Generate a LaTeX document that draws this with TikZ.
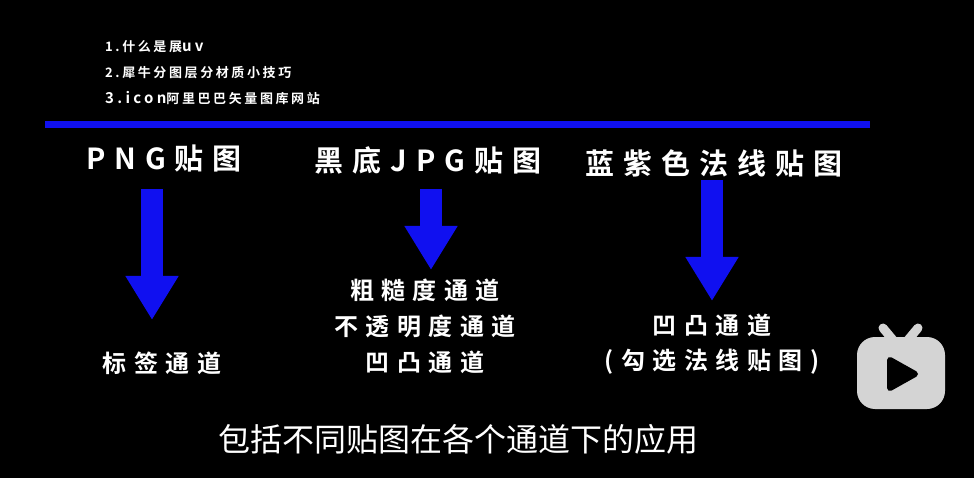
\documentclass[tikz,border=0pt]{standalone}
\usepackage{fontspec}
\usepackage[svgnames]{xcolor}
\setmainfont{Noto Sans CJK SC}
\newfontfamily\wideb[LetterSpace=31,BoldFont={* Bold}]{Noto Sans CJK SC}
\newfontfamily\widel[LetterSpace=20,BoldFont={* Bold}]{Noto Sans CJK SC}
\newfontfamily\widem[LetterSpace=22,BoldFont={* Bold}]{Noto Sans CJK SC}
\newcommand{\listlatin}[1]{{\widem\bfseries\fontsize{15}{15}\selectfont #1}}
\usetikzlibrary{arrows.meta}
\definecolor{barblue}{HTML}{1010F0}
\colorlet{tvgray}{black!17}

\begin{document}
\begin{tikzpicture}[
  x=1pt,y=-1pt,
  every node/.style={text=white,inner sep=0pt},
  listline/.style={anchor=west,font=\widel\bfseries\fontsize{13}{15}\selectfont},
  headline/.style={font=\wideb\bfseries\fontsize{29}{32}\selectfont},
  channel/.style={font=\wideb\bfseries\fontsize{24}{27}\selectfont},
  bigarrow/.style={draw=barblue,line width=22.5pt,-{Triangle[width=50pt,length=44pt]}},
]
\useasboundingbox[fill=black] (0,0) rectangle (974,478);
% list above the bar
\foreach \nm/\ypos/\txt in {one/47/{1.什么是展\listlatin{uv}},two/73/2.犀牛分图层分材质小技巧,three/98/{\listlatin{3.icon}阿里巴巴矢量图库网站}}
{
  \node[listline] (\nm) at (105,\ypos) {\txt};
}
\fill[barblue] (45,121) rectangle (870,128);
% headings
\foreach \nm/\xpos/\ypos/\txt in {png/164/158/PNG贴图,jpg/428/160/黑底JPG贴图,normal/714/163/蓝紫色法线贴图}
{
  \node[headline] (\nm) at (\xpos,\ypos) {\txt};
}
% channels
\foreach \nm/\xpos/\ypos/\txt in {label/162/363/标签通道,rough/425/290/粗糙度通道,opac/425/326/不透明度通道,bump/425/362/凹凸通道,bumpb/712/325/凹凸通道,tick/712/362/(勾选法线贴图)}
{
  \node[channel] (\nm) at (\xpos,\ypos) {\txt};
}
% arrows
\foreach \nm/\xpos/\ya/\yb in {pngarrow/152/189/320,jpgarrow/431/189/270,normalarrow/712/180/301}
{
  \coordinate (\nm a) at (\xpos,\ya);
  \coordinate (\nm b) at (\xpos,\yb);
  \draw[bigarrow] (\nm a) -- (\nm b);
}
\node[font=\fontsize{32}{36}\selectfont] (caption) at (458,439) {包括不同贴图在各个通道下的应用};
% tv badge
\begin{scope}[tvgray]
  \draw[line width=9pt,line cap=round] (883,328) -- (893,340);
  \draw[line width=9pt,line cap=round] (918,328) -- (908,340);
  \fill[rounded corners=18pt] (857,337) rectangle (945,409);
\end{scope}
\filldraw[black,line width=6pt,line join=round] (890,360) -- (890,388) -- (915,374) -- cycle;
\end{tikzpicture}
\end{document}
